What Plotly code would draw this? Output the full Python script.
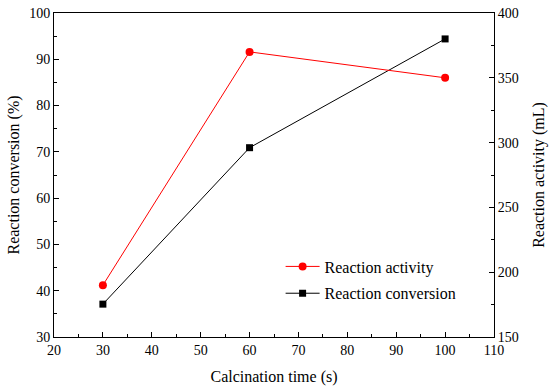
import plotly.graph_objects as go

calcination_time = [30, 60, 100]
reaction_activity = [190, 370, 350]      # mL, right axis
reaction_conversion = [37.1, 70.9, 94.4]  # %, left axis

FONT = "Times New Roman, Liberation Serif, DejaVu Serif, serif"

fig = go.Figure()
fig.add_trace(go.Scatter(
    x=calcination_time, y=reaction_activity, name="Reaction activity",
    mode="lines+markers", yaxis="y2", legendgroup="a",
    line=dict(color="#FF0000", width=1),
    marker=dict(symbol="circle", size=8, color="#FF0000"),
))
fig.add_trace(go.Scatter(
    x=calcination_time, y=reaction_conversion, name="Reaction conversion",
    mode="lines+markers", yaxis="y", legendgroup="b",
    line=dict(color="#000000", width=1),
    marker=dict(symbol="square", size=7, color="#000000"),
))

axis_common = dict(
    showline=True, linecolor="black", linewidth=1,
    ticks="inside", ticklen=5, tickwidth=1, tickcolor="black",
    showgrid=False, zeroline=False, automargin=False,
    tickfont=dict(family=FONT, size=14, color="black"),
)

fig.update_layout(
    width=550, height=390,
    margin=dict(l=54, r=56, t=13, b=53),
    paper_bgcolor="white", plot_bgcolor="white",
    font=dict(family=FONT, size=16, color="black"),
    showlegend=True,
    legend=dict(
        x=0.515, y=0.27, xanchor="left", yanchor="top",
        bgcolor="rgba(0,0,0,0)", borderwidth=0,
        font=dict(family=FONT, size=16, color="black"),
        tracegroupgap=3, itemwidth=34,
    ),
    xaxis=dict(
        range=[20, 110], dtick=10, tick0=20, mirror=True,
        title=dict(text="Calcination time (s)", font=dict(family=FONT, size=16), standoff=14),
        minor=dict(ticks="inside", ticklen=3, dtick=5, tickcolor="black"),
        **axis_common,
    ),
    yaxis=dict(
        range=[30, 100], dtick=10, tick0=30,
        title=dict(text="Reaction conversion (%)", font=dict(family=FONT, size=16), standoff=5),
        minor=dict(ticks="inside", ticklen=3, dtick=5, tickcolor="black"),
        **axis_common,
    ),
    yaxis2=dict(
        range=[150, 400], dtick=50, tick0=150, overlaying="y", side="right",
        title=dict(text="Reaction activity (mL)", font=dict(family=FONT, size=16), standoff=15),
        minor=dict(ticks="inside", ticklen=3, dtick=25, tickcolor="black"),
        **axis_common,
    ),
)

fig.write_html(
    "out.html",
    config={"displayModeBar": False},
    post_script="document.body.style.margin='0';",
)
